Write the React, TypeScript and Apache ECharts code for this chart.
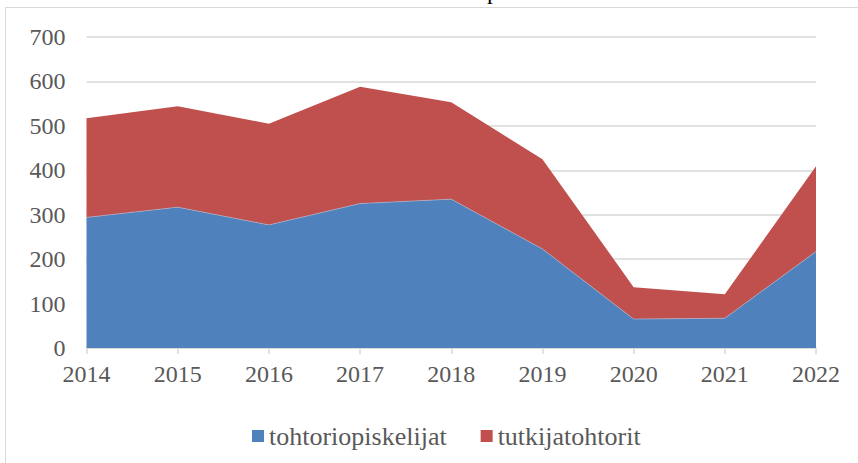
import React, { useEffect, useRef } from "react";
import * as echarts from "echarts";

const years = ["2014", "2015", "2016", "2017", "2018", "2019", "2020", "2021", "2022"];
const tohtoriopiskelijat = [294, 317, 277, 325, 335, 223, 65, 67, 217];
const tutkijatohtorit = [223, 227, 228, 263, 218, 202, 72, 54, 192];
const seriesNames = ["tohtoriopiskelijat", "tutkijatohtorit"];
const colors = ["#4F81BD", "#C0504D"];

const FONT = "'Liberation Serif', 'Times New Roman', serif";

export default function App() {
  const ref = useRef<HTMLDivElement>(null);
  useEffect(() => {
    if (!ref.current) return;
    const chart = echarts.init(ref.current, null, { renderer: "svg" });
    chart.setOption({
      animation: false,
      backgroundColor: "#ffffff",
      color: colors,
      textStyle: { fontFamily: FONT },
      graphic: [
        {
          type: "rect",
          shape: { x: 5.5, y: 7.5, width: 900, height: 500 },
          style: { fill: "none", stroke: "#D9D9D9", lineWidth: 1 },
          silent: true,
        },
        {
          type: "text",
          x: 493,
          y: -9,
          style: {
            text: "p",
            fontFamily: FONT,
            fontSize: 24,
            fill: "#000000",
            align: "center",
            verticalAlign: "middle",
          },
        },
      ],
      grid: { left: 86.5, right: 42, top: 37, bottom: 115, containLabel: false },
      legend: {
        left: 247,
        top: 418,
        itemWidth: 12,
        itemHeight: 12,
        itemGap: 34,
        icon: "rect",
        textStyle: { fontFamily: FONT, fontSize: 26, color: "#595959" },
        data: seriesNames,
      },
      xAxis: {
        type: "category",
        data: years,
        boundaryGap: false,
        axisLine: { lineStyle: { color: "#D9D9D9", width: 1.5 } },
        axisTick: { show: true, length: 6, alignWithLabel: true, lineStyle: { color: "#D9D9D9", width: 1.5 } },
        axisLabel: { color: "#595959", fontFamily: FONT, fontSize: 24, margin: 14 },
        splitLine: { show: false },
      },
      yAxis: {
        type: "value",
        min: 0,
        max: 700,
        interval: 100,
        axisLine: { show: false },
        axisTick: { show: false },
        axisLabel: { color: "#595959", fontFamily: FONT, fontSize: 24, margin: 21 },
        splitLine: { lineStyle: { color: "#D9D9D9", width: 1.5 } },
      },
      series: [
        {
          name: seriesNames[0],
          type: "line",
          stack: "total",
          data: tohtoriopiskelijat,
          showSymbol: false,
          symbol: "none",
          lineStyle: { width: 0.6, color: "#A9BCD8" },
          areaStyle: { color: colors[0], opacity: 1 },
          itemStyle: { color: colors[0] },
        },
        {
          name: seriesNames[1],
          type: "line",
          stack: "total",
          data: tutkijatohtorit,
          showSymbol: false,
          symbol: "none",
          lineStyle: { width: 0 },
          areaStyle: { color: colors[1], opacity: 1 },
          itemStyle: { color: colors[1] },
        },
      ],
    });
    return () => chart.dispose();
  }, []);
  return (
    <div
      ref={ref}
      style={{ position: "absolute", left: 0, top: 0, width: 858, height: 463 }}
    />
  );
}
